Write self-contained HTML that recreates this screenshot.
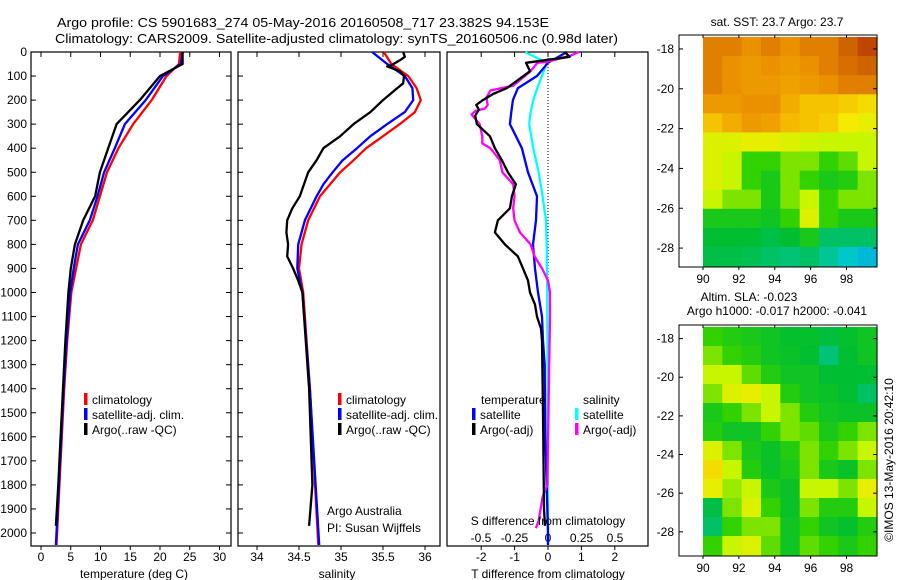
<!DOCTYPE html>
<html><head><meta charset="utf-8">
<style>
html,body{margin:0;padding:0;background:#fff;}
svg{display:block;font-family:"Liberation Sans",Arial,sans-serif;}
text{fill:#000;}
</style></head>
<body>
<svg id="fig" width="900" height="580" viewBox="0 0 900 580" xmlns="http://www.w3.org/2000/svg">
<text x="57" y="27" font-size="13" textLength="492" lengthAdjust="spacingAndGlyphs">Argo profile: CS 5901683_274 05-May-2016 20160508_717 23.382S 94.153E</text>
<text x="55" y="43" font-size="13" textLength="563" lengthAdjust="spacingAndGlyphs">Climatology: CARS2009. Satellite-adjusted climatology: synTS_20160506.nc (0.98d later)</text>
<g id="p1"></g>
<g id="p2"></g>
<g id="p3"></g>
<g id="m1"></g>
<g id="m2"></g>
<text transform="translate(893,460) rotate(-90)" text-anchor="middle" font-size="12">©IMOS 13-May-2016 20:42:10</text>
</svg>
<script>
// ---------- DATA ----------
const depthTicks=[0,100,200,300,400,500,600,700,800,900,1000,1100,1200,1300,1400,1500,1600,1700,1800,1900,2000];
const tempTicks=[0,5,10,15,20,25,30];
const salTicks=[34,34.5,35,35.5,36];
const salTickLabels=["34","34.5","35","35.5","36"];
const tdTicks=[-2,-1,0,1,2];
const sdTicks=[-0.5,-0.25,0,0.25,0.5];
const sdTickLabels=["-0.5","-0.25","0","0.25","0.5"];

const profDepth=[0,50,100,200,300,400,500,600,700,800,900,1000,1200,1400,1600,1800,2000,2050];
const tempClim=[23.4,23.2,21.1,18.6,15.5,13.0,11.1,9.9,8.7,6.7,5.9,5.1,4.4,3.9,3.5,3.1,2.7,2.6];
const tempSat=[23.8,23.5,20.5,17.6,14.1,12.4,10.6,9.5,8.2,6.2,5.5,4.9,4.3,3.8,3.4,3.0,2.6,2.5];
const argoDepthT=[0,50,100,200,300,400,500,600,700,800,900,1000,1200,1400,1600,1800,1970];
const tempArgo=[23.8,23.8,20.0,16.6,12.7,11.3,9.9,9.1,7.1,5.7,5.0,4.6,4.1,3.7,3.3,2.9,2.5];

const salDepth=[0,50,100,150,200,250,300,350,400,450,500,550,600,700,800,900,1000,1400,2050];
const salClim=[35.51,35.6,35.8,35.9,35.95,35.88,35.7,35.5,35.3,35.15,34.99,34.87,34.75,34.61,34.53,34.5,34.55,34.63,34.73];
const salSat=[35.37,35.55,35.76,35.85,35.86,35.76,35.55,35.35,35.19,35.02,34.9,34.79,34.71,34.57,34.49,34.48,34.54,34.63,34.74];
const argoDepthS=[0,20,30,55,60,80,100,130,150,200,250,300,350,400,450,500,600,650,700,750,800,850,900,950,1000,1400,1800,1970];
const salArgo=[35.74,35.76,35.72,35.6,35.55,35.7,35.75,35.74,35.67,35.5,35.35,35.15,34.99,34.79,34.71,34.61,34.51,34.42,34.36,34.35,34.37,34.36,34.43,34.49,34.54,34.62,34.66,34.62];

const diffDepth=[0,45,100,150,200,250,300,400,500,600,700,800,900,1000,1100,1200,1300,1600,2000,2050];
const tdSat=[0.57,0.0,-0.33,-0.9,-1.05,-1.1,-1.14,-0.78,-0.6,-0.33,-0.36,-0.45,-0.39,-0.3,-0.18,-0.15,-0.1,-0.08,0.0,0.0];
const sdSat=[-0.17,-0.01,-0.045,-0.08,-0.11,-0.13,-0.14,-0.11,-0.07,-0.04,-0.015,-0.01,-0.008,-0.005,-0.005,-0.004,-0.003,-0.002,0.0,0.0];
const argoDiffDepth=[0,20,45,80,150,175,200,220,240,265,300,350,400,450,500,550,600,650,700,750,800,850,900,950,1000,1050,1100,1150,1200,1500,1900,1970];
const tdArgo=[0.5,0.65,-0.66,-0.54,-1.23,-1.65,-1.95,-2.15,-2.07,-2.18,-2.13,-1.74,-1.59,-1.38,-1.2,-0.96,-1.08,-1.14,-1.5,-1.59,-1.29,-0.9,-0.75,-0.6,-0.54,-0.39,-0.33,-0.21,-0.18,-0.15,-0.12,-0.09];
const magDepth=[0,15,40,45,80,140,160,190,220,235,245,260,300,350,380,400,450,500,550,600,650,700,750,800,850,900,950,1000,1100,1800,1850,1950,1980];
const sdArgo=[0.23,0.17,0.0,-0.08,-0.13,-0.26,-0.43,-0.46,-0.45,-0.47,-0.54,-0.57,-0.51,-0.49,-0.49,-0.43,-0.36,-0.34,-0.26,-0.25,-0.26,-0.25,-0.21,-0.13,-0.1,-0.045,0.0,0.015,0.015,-0.005,-0.04,-0.07,-0.09];

const lonTicks=[90,92,94,96,98];
const latTicks1=[-18,-20,-22,-24,-26,-28];
const latTicks2=[-18,-20,-22,-24,-26,-28];
const sstGrid=[
[0.85,0.85,0.82,0.85,0.82,0.85,0.85,0.9,0.95],
[0.85,0.82,0.8,0.82,0.8,0.82,0.85,0.88,0.9],
[0.85,0.82,0.8,0.8,0.78,0.8,0.82,0.85,0.85],
[0.8,0.8,0.82,0.82,0.75,0.7,0.7,0.68,0.65],
[0.7,0.75,0.8,0.78,0.72,0.7,0.68,0.62,0.6],
[0.58,0.58,0.6,0.6,0.58,0.56,0.55,0.55,0.55],
[0.58,0.55,0.45,0.45,0.5,0.5,0.45,0.48,0.55],
[0.58,0.55,0.45,0.4,0.5,0.45,0.4,0.42,0.5],
[0.55,0.5,0.5,0.4,0.5,0.55,0.45,0.5,0.5],
[0.4,0.4,0.4,0.38,0.45,0.58,0.45,0.4,0.4],
[0.35,0.35,0.35,0.33,0.35,0.4,0.3,0.3,0.3],
[0.33,0.33,0.32,0.3,0.28,0.3,0.25,0.2,0.15]];
const slaGrid=[
[0.45,0.42,0.4,0.38,0.36,0.36,0.34,0.36,0.38],
[0.5,0.45,0.42,0.38,0.37,0.35,0.28,0.35,0.38],
[0.55,0.55,0.48,0.42,0.38,0.38,0.35,0.35,0.35],
[0.5,0.58,0.6,0.55,0.42,0.38,0.37,0.35,0.3],
[0.4,0.45,0.5,0.55,0.5,0.42,0.38,0.37,0.37],
[0.42,0.38,0.38,0.45,0.5,0.48,0.4,0.45,0.5],
[0.58,0.5,0.4,0.37,0.42,0.5,0.45,0.5,0.55],
[0.65,0.55,0.42,0.37,0.4,0.5,0.4,0.37,0.5],
[0.6,0.52,0.55,0.4,0.37,0.55,0.55,0.5,0.6],
[0.33,0.5,0.58,0.45,0.37,0.5,0.42,0.42,0.55],
[0.3,0.45,0.5,0.5,0.38,0.45,0.38,0.36,0.42],
[0.45,0.55,0.58,0.48,0.38,0.48,0.45,0.4,0.45]];

// ---------- HELPERS ----------
const NS="http://www.w3.org/2000/svg";
function mk(parent,tag,attrs){const e=document.createElementNS(NS,tag);for(const k in attrs)e.setAttribute(k,attrs[k]);parent.appendChild(e);return e;}
function txt(parent,x,y,s,anchor,size){const t=mk(parent,'text',{x:x,y:y,'text-anchor':anchor||'start','font-size':size||12});t.textContent=s;return t;}
const yD=d=>52+0.2405*d;
const TOP=52,BOT=546;

function panel(g,x0,x1,name){
  const r=mk(g,'rect',{x:x0,y:TOP,width:x1-x0,height:BOT-TOP,fill:'none',stroke:'#000','stroke-width':1.2});
  
  
}
function line(g,xs,ds,xf,color,name){
  const pts=xs.map((v,i)=>xf(v).toFixed(1)+','+yD(ds[i]).toFixed(1)).join(' ');
  const p=mk(g,'polyline',{points:pts,fill:'none',stroke:color,'stroke-width':2.3,'stroke-linejoin':'round'});
  
  
}
function xticks(g,vals,labels,xf,name){
  vals.forEach((v,i)=>{
    const x=xf(v);
    mk(g,'line',{x1:x,y1:TOP,x2:x,y2:TOP+5,stroke:'#000'});
    mk(g,'line',{x1:x,y1:BOT,x2:x,y2:BOT+4,stroke:'#000'});
    const t=txt(g,x,561,labels[i],'middle');
    
    
  });
}
function legendRow(g,x,y,color,label,name){
  mk(g,'rect',{x:x,y:y-11,width:3.5,height:12,fill:color});
  const t=txt(g,x+8,y,label);
  
  
}

// ---------- PANEL 1 ----------
const p1=document.getElementById('p1');
const xT=t=>41+5.95*t;
panel(p1,31,231,'temperature-panel');
depthTicks.forEach(d=>{
  mk(p1,'line',{x1:31,y1:yD(d),x2:36,y2:yD(d),stroke:'#000'});
  mk(p1,'line',{x1:226,y1:yD(d),x2:231,y2:yD(d),stroke:'#000'});
  mk(p1,'line',{x1:238,y1:yD(d),x2:243,y2:yD(d),stroke:'#000'});
  const t=txt(p1,27,yD(d)+4,String(d),'end');
  
  
});
xticks(p1,tempTicks,tempTicks.map(String),xT,'temperature');
line(p1,tempClim,profDepth,xT,'#ff0000','temp-climatology-line');
line(p1,tempSat,profDepth,xT,'#0000ff','temp-satellite-line');
line(p1,tempArgo,argoDepthT,xT,'#000','temp-argo-line');
legendRow(p1,84,404,'#ff0000','climatology','legend-climatology');
legendRow(p1,84,419,'#0000ff','satellite-adj. clim.','legend-satellite');
legendRow(p1,84,434,'#000','Argo(..raw -QC)','legend-argo');
let tt=txt(p1,134,578,'temperature (deg C)','middle');



// ---------- PANEL 2 ----------
const p2=document.getElementById('p2');
const xS=s=>257+84*(s-34);
panel(p2,238,440,'salinity-panel');
xticks(p2,salTicks,salTickLabels,xS,'salinity');
line(p2,salClim,salDepth,xS,'#ff0000','sal-climatology-line');
line(p2,salSat,salDepth,xS,'#0000ff','sal-satellite-line');
line(p2,salArgo,argoDepthS,xS,'#000','sal-argo-line');
legendRow(p2,338,404,'#ff0000','climatology','legend-climatology-2');
legendRow(p2,338,419,'#0000ff','satellite-adj. clim.','legend-satellite-2');
legendRow(p2,338,434,'#000','Argo(..raw -QC)','legend-argo-2');
tt=txt(p2,327,515,'Argo Australia');


tt=txt(p2,327,532,'PI: Susan Wijffels');


tt=txt(p2,337,578,'salinity','middle');



// ---------- PANEL 3 ----------
const p3=document.getElementById('p3');
const xTD=v=>548+33.4*v;
const xSD=v=>548+134*v;
panel(p3,447,648,'difference-panel');
mk(p3,'line',{x1:548,y1:TOP,x2:548,y2:BOT,stroke:'#000','stroke-dasharray':'1,2'});
xticks(p3,tdTicks,tdTicks.map(String),xTD,'t-difference');
sdTicks.forEach((v,i)=>{
  const t=txt(p3,xSD(v),542,sdTickLabels[i],'middle');
  
  
});
line(p3,sdSat,diffDepth,xSD,'#00ffff','s-satellite-diff-line');
line(p3,tdSat,diffDepth,xTD,'#0000ff','t-satellite-diff-line');
line(p3,sdArgo,magDepth,xSD,'#ff00ff','s-argo-diff-line');
line(p3,tdArgo,argoDiffDepth,xTD,'#000','t-argo-diff-line');
tt=txt(p3,481,404,'temperature');


tt=txt(p3,583,404,'salinity');


legendRow(p3,472,419,'#0000ff','satellite','legend-t-satellite');
legendRow(p3,472,434,'#000','Argo(-adj)','legend-t-argo');
legendRow(p3,575,419,'#00ffff','satellite','legend-s-satellite');
legendRow(p3,575,434,'#ff00ff','Argo(-adj)','legend-s-argo');
tt=txt(p3,548,525,'S difference from climatology','middle');


tt=txt(p3,548,578,'T difference from climatology','middle');



// ---------- MAPS ----------
const stops=[[0,[0,140,255]],[0.2,[0,200,200]],[0.35,[0,190,50]],[0.45,[50,210,0]],[0.55,[200,245,0]],[0.62,[245,235,0]],[0.72,[245,185,0]],[0.82,[235,145,0]],[0.95,[190,70,0]],[1,[170,40,0]]];
function cmap(v){
  for(let i=1;i<stops.length;i++){if(v<=stops[i][0]){const a=stops[i-1],b=stops[i];const f=(v-a[0])/(b[0]-a[0]);return 'rgb('+a[1].map((c,k)=>Math.round(c+f*(b[1][k]-c))).join(',')+')';}}
  return 'rgb(170,40,0)';
}
function drawMap(gid,grid,fy0,fy1,latTop,latBot,latTicks,name){
  const g=document.getElementById(gid);
  const ix0=703,ix1=877,lonMin=90,lonMax=99.7;
  const xL=lo=>ix0+(lo-lonMin)/(lonMax-lonMin)*(ix1-ix0);
  const yL=la=>fy0+2+(latTop-la)/(latTop-latBot)*(fy1-fy0-3);
  const nr=grid.length,nc=grid[0].length;
  const dLat=(latTop-latBot)/nr,dLon=(lonMax-lonMin)/nc;
  grid.forEach((row,r)=>row.forEach((v,c)=>{
    const x=xL(lonMin+c*dLon),y=yL(latTop-r*dLat);
    const cell=mk(g,'rect',{x:x.toFixed(1),y:y.toFixed(1),width:(xL(lonMin+(c+1)*dLon)-x+0.6).toFixed(1),height:(yL(latTop-(r+1)*dLat)-y+0.6).toFixed(1),fill:cmap(v)});
    
    
  }));
  const fr=mk(g,'rect',{x:679,y:fy0,width:198,height:fy1-fy0,fill:'none',stroke:'#000','stroke-width':1});
  
  
  latTicks.forEach(la=>{
    const y=yL(la);
    mk(g,'line',{x1:679,y1:y,x2:683,y2:y,stroke:'#000'});
    mk(g,'line',{x1:873,y1:y,x2:877,y2:y,stroke:'#000'});
    const t=txt(g,674,y+4,String(la),'end');
    
    
  });
  lonTicks.forEach(lo=>{
    const x=xL(lo);
    mk(g,'line',{x1:x,y1:fy0,x2:x,y2:fy0+3,stroke:'#000'});
    mk(g,'line',{x1:x,y1:fy1,x2:x,y2:fy1+3,stroke:'#000'});
    const t=txt(g,x,fy1+16,String(lo),'middle');
    
    
  });
}
drawMap('m1',sstGrid,35,267,-17.4,-28.9,latTicks1,'sst-map');
drawMap('m2',slaGrid,325,556,-17.4,-29.2,latTicks2,'sla-map');
const m1=document.getElementById('m1'),m2=document.getElementById('m2');
tt=txt(m1,777,26,'sat. SST: 23.7 Argo: 23.7','middle');


tt=txt(m2,749,301,'Altim. SLA: -0.023','middle');


tt=txt(m2,777,315,'Argo h1000: -0.017 h2000: -0.041','middle');


</script>
</body></html>
